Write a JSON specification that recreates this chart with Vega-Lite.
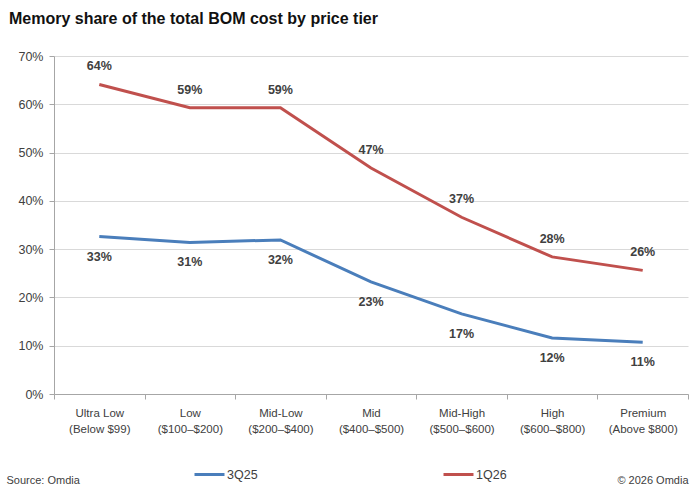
{
  "$schema": "https://vega.github.io/schema/vega-lite/v6.json",
  "width": 634,
  "height": 338,
  "autosize": {"type": "none"},
  "padding": {"left": 54, "top": 56, "right": 2, "bottom": 109},
  "background": "white",
  "title": {
    "text": "Memory share of the total BOM cost by price tier",
    "anchor": "start",
    "frame": "group",
    "dx": -45,
    "offset": 23,
    "font": "Liberation Sans",
    "fontSize": 16,
    "fontWeight": "bold",
    "color": "#111111"
  },
  "data": {
    "values": [
      {"tier": "Ultra Low (Below $99)", "series": "3Q25", "value": 0.326},
      {"tier": "Low ($100–$200)", "series": "3Q25", "value": 0.314},
      {"tier": "Mid-Low ($200–$400)", "series": "3Q25", "value": 0.319},
      {"tier": "Mid ($400–$500)", "series": "3Q25", "value": 0.232},
      {"tier": "Mid-High ($500–$600)", "series": "3Q25", "value": 0.166},
      {"tier": "High ($600–$800)", "series": "3Q25", "value": 0.116},
      {"tier": "Premium (Above $800)", "series": "3Q25", "value": 0.107},
      {"tier": "Ultra Low (Below $99)", "series": "1Q26", "value": 0.641},
      {"tier": "Low ($100–$200)", "series": "1Q26", "value": 0.593},
      {"tier": "Mid-Low ($200–$400)", "series": "1Q26", "value": 0.593},
      {"tier": "Mid ($400–$500)", "series": "1Q26", "value": 0.468},
      {"tier": "Mid-High ($500–$600)", "series": "1Q26", "value": 0.366},
      {"tier": "High ($600–$800)", "series": "1Q26", "value": 0.284},
      {"tier": "Premium (Above $800)", "series": "1Q26", "value": 0.256}
    ]
  },
  "encoding": {
    "x": {
      "field": "tier",
      "type": "ordinal",
      "sort": null,
      "scale": {"type": "band", "paddingInner": 0, "paddingOuter": 0},
      "axis": {
        "title": "© 2026 Omdia",
        "titleAnchor": "end",
        "titleAlign": "right",
        "titleX": 634,
        "titleY": 86,
        "titleBaseline": "middle",
        "titleFont": "Liberation Sans",
        "titleFontSize": 11,
        "titleFontWeight": "normal",
        "titleColor": "#404040",
        "labelAngle": 0,
        "labelExpr": "split(replace(datum.label, ' (', '|('), '|')",
        "labelFont": "Liberation Sans",
        "labelFontSize": 11.5,
        "labelColor": "#404040",
        "labelPadding": 8,
        "labelLineHeight": 16,
        "tickBand": "extent",
        "tickSize": 5,
        "tickColor": "#a6a6a6",
        "domainColor": "#a6a6a6",
        "grid": false
      }
    },
    "y": {
      "field": "value",
      "type": "quantitative",
      "scale": {"domain": [0, 0.7]},
      "axis": {
        "title": "Source: Omdia",
        "titleAngle": 0,
        "titleAlign": "left",
        "titleBaseline": "middle",
        "titleX": -48,
        "titleY": 424,
        "titleFont": "Liberation Sans",
        "titleFontSize": 11,
        "titleFontWeight": "normal",
        "titleColor": "#404040",
        "format": ".0%",
        "values": [0, 0.1, 0.2, 0.3, 0.4, 0.5, 0.6, 0.7],
        "labelFont": "Liberation Sans",
        "labelFontSize": 12.5,
        "labelColor": "#404040",
        "labelPadding": 6,
        "tickSize": 5,
        "tickColor": "#a6a6a6",
        "domainColor": "#a6a6a6",
        "gridColor": "#d9d9d9"
      }
    }
  },
  "layer": [
    {
      "mark": {"type": "line", "strokeWidth": 3},
      "encoding": {
        "color": {
          "field": "series",
          "type": "nominal",
          "scale": {"domain": ["3Q25", "1Q26"], "range": ["#4a7ebb", "#c0504d"]},
          "legend": {
            "title": null,
            "orient": "none",
            "legendX": 139,
            "legendY": 402,
            "direction": "horizontal",
            "symbolType": "stroke",
            "symbolSize": 900,
            "symbolStrokeWidth": 3,
            "columnPadding": 179,
            "labelFont": "Liberation Sans",
            "labelFontSize": 12.5,
            "labelColor": "#404040",
            "labelOffset": 1
          }
        }
      }
    },
    {
      "transform": [{"filter": "datum.series == '1Q26'"}],
      "mark": {"type": "text", "dy": -18, "font": "Liberation Sans", "fontSize": 12.5, "fontWeight": "bold", "color": "#404040"},
      "encoding": {"text": {"field": "value", "type": "quantitative", "format": ".0%"}}
    },
    {
      "transform": [{"filter": "datum.series == '3Q25'"}],
      "mark": {"type": "text", "dy": 20, "font": "Liberation Sans", "fontSize": 12.5, "fontWeight": "bold", "color": "#404040"},
      "encoding": {"text": {"field": "value", "type": "quantitative", "format": ".0%"}}
    }
  ],
  "config": {"view": {"stroke": null}}
}
